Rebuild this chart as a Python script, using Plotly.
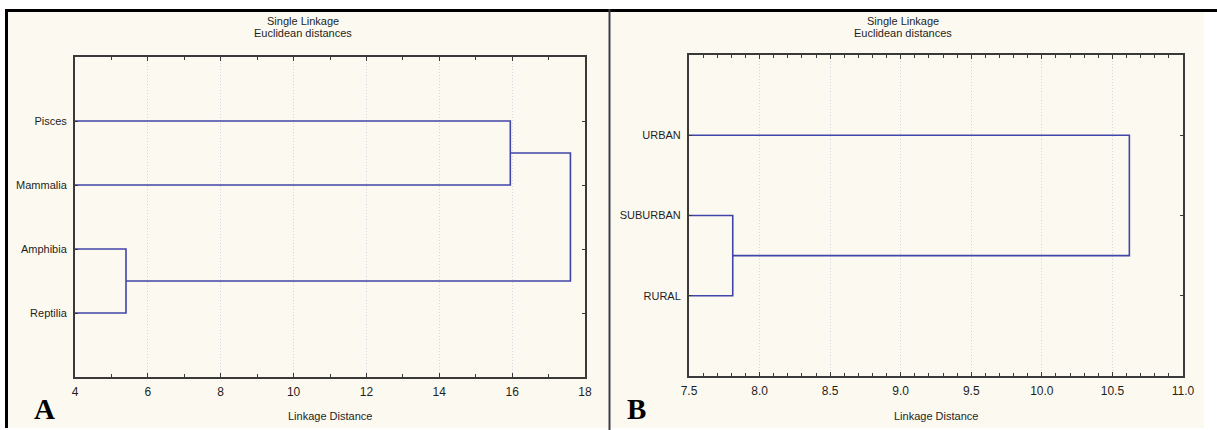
import plotly.graph_objects as go

# ---------------- data ----------------
labels_A = ["Pisces", "Mammalia", "Amphibia", "Reptilia"]
# merges: (child_a, child_b, linkage distance); ids >= n refer to earlier merges
merges_A = [(2, 3, 5.4), (0, 1, 15.95), (4, 5, 17.6)]
xticks_A = [4, 6, 8, 10, 12, 14, 16, 18]

labels_B = ["URBAN", "SUBURBAN", "RURAL"]
merges_B = [(1, 2, 7.81), (0, 3, 10.62)]
xticks_B = [7.5, 8.0, 8.5, 9.0, 9.5, 10.0, 10.5, 11.0]

title_1 = "Single Linkage"
title_2 = "Euclidean distances"
x_title = "Linkage Distance"

# ---------------- helpers ----------------
W, H = 1217, 430
FONT = "Liberation Sans, Arial, sans-serif"
TXT = "#1e1e1e"
AXC = "#3a3a3a"
LINE = "#4045a8"
CREAM = "#fcfaf0"


def segments(labels, merges):
    n = len(labels)
    pos = {i: i + 1 for i in range(n)}
    hgt = {i: 0.0 for i in range(n)}
    xs, ys = [], []
    for k, (a, b, d) in enumerate(merges):
        xs += [hgt[a], d, d, hgt[b], None]
        ys += [pos[a], pos[a], pos[b], pos[b], None]
        pos[n + k] = (pos[a] + pos[b]) / 2
        hgt[n + k] = d
    return xs, ys


def px_x(p):
    return p / W


def px_y(p):
    return 1 - p / H


fig = go.Figure()

xa, ya = segments(labels_A, merges_A)
fig.add_trace(go.Scatter(x=xa, y=ya, mode="lines", line=dict(color=LINE, width=1.6),
                         xaxis="x", yaxis="y", showlegend=False, hoverinfo="skip"))
xb, yb = segments(labels_B, merges_B)
fig.add_trace(go.Scatter(x=xb, y=yb, mode="lines", line=dict(color=LINE, width=1.6),
                         xaxis="x2", yaxis="y2", showlegend=False, hoverinfo="skip"))


def xaxis_cfg(dom, rng, ticks, dtick_minor, fmt, anchor):
    return dict(
        domain=dom, range=rng, tickmode="array", tickvals=ticks,
        ticktext=[fmt.format(t) for t in ticks], anchor=anchor,
        ticks="inside", ticklen=4, tickcolor=AXC, tickwidth=1,
        showline=True, linecolor=AXC, linewidth=2, mirror="ticks",
        showgrid=True, gridcolor="#d4d5df", gridwidth=1, griddash="1px,2px",
        zeroline=False, tickfont=dict(family=FONT, size=12, color=TXT),
        ticklabelstandoff=3, automargin=False,
        minor=dict(dtick=dtick_minor, tick0=rng[0], ticks="inside", ticklen=3,
                   tickcolor=AXC, showgrid=False),
        fixedrange=True,
    )


def yaxis_cfg(dom, labels, anchor):
    n = len(labels)
    return dict(
        domain=dom, range=[n + 1, 0], tickmode="array",
        tickvals=list(range(1, n + 1)), ticktext=labels,
        ticks="inside", ticklen=3, tickcolor=AXC,
        showline=True, linecolor=AXC, linewidth=2, mirror="ticks",
        showgrid=False, zeroline=False, anchor=anchor, automargin=False,
        tickfont=dict(family=FONT, size=11, color=TXT),
        ticklabelstandoff=4, fixedrange=True,
    )


fig.update_layout(
    width=W, height=H,
    margin=dict(l=0, r=0, t=0, b=0, pad=0, autoexpand=False),
    paper_bgcolor="white", plot_bgcolor="white",
    xaxis=xaxis_cfg([px_x(75), px_x(585)], [4, 18], xticks_A, 1, "{:g}", "y"),
    yaxis=yaxis_cfg([px_y(377), px_y(57)], labels_A, "x"),
    xaxis2=xaxis_cfg([px_x(689), px_x(1183)], [7.5, 11.0], xticks_B, 0.1, "{:.1f}", "y2"),
    yaxis2=yaxis_cfg([px_y(376), px_y(55)], labels_B, "x2"),
    showlegend=False,
)

# backgrounds and frame
shapes = [
    dict(type="rect", xref="paper", yref="paper", x0=px_x(8), x1=px_x(608),
         y0=px_y(428), y1=px_y(12), fillcolor=CREAM, line=dict(width=0), layer="below"),
    dict(type="rect", xref="paper", yref="paper", x0=px_x(611), x1=px_x(1204),
         y0=px_y(428), y1=px_y(12), fillcolor=CREAM, line=dict(width=0), layer="below"),
    dict(type="line", xref="paper", yref="paper", x0=px_x(5), x1=1,
         y0=px_y(10.5), y1=px_y(10.5), line=dict(color="black", width=3)),
    dict(type="line", xref="paper", yref="paper", x0=px_x(6.5), x1=px_x(6.5),
         y0=px_y(428), y1=px_y(9), line=dict(color="black", width=3)),
    dict(type="line", xref="paper", yref="paper", x0=px_x(609.5), x1=px_x(609.5),
         y0=px_y(430), y1=px_y(9), line=dict(color="#3c3c3c", width=2)),
]
fig.update_layout(shapes=shapes)

ann = []
for cx in (303, 903):
    ann.append(dict(text=title_1, x=px_x(cx), y=px_y(21), xref="paper", yref="paper",
                    showarrow=False, xanchor="center", yanchor="middle",
                    font=dict(family=FONT, size=11, color=TXT)))
    ann.append(dict(text=title_2, x=px_x(cx), y=px_y(33.5), xref="paper", yref="paper",
                    showarrow=False, xanchor="center", yanchor="middle",
                    font=dict(family=FONT, size=11, color=TXT)))
for cx in (330, 936):
    ann.append(dict(text=x_title, x=px_x(cx), y=px_y(416), xref="paper", yref="paper",
                    showarrow=False, xanchor="center", yanchor="middle",
                    font=dict(family=FONT, size=11, color=TXT)))
for letter, cx in (("A", 44), ("B", 636)):
    ann.append(dict(text="<b>" + letter + "</b>", x=px_x(cx), y=px_y(409), xref="paper",
                    yref="paper", showarrow=False, xanchor="center", yanchor="middle",
                    font=dict(family="Liberation Serif, Times New Roman, serif", size=29,
                              color="black")))
fig.update_layout(annotations=ann)

fig.write_html(
    "out.html",
    config={"displayModeBar": False},
    post_script="document.body.style.margin='0';document.body.style.overflow='hidden';",
)
